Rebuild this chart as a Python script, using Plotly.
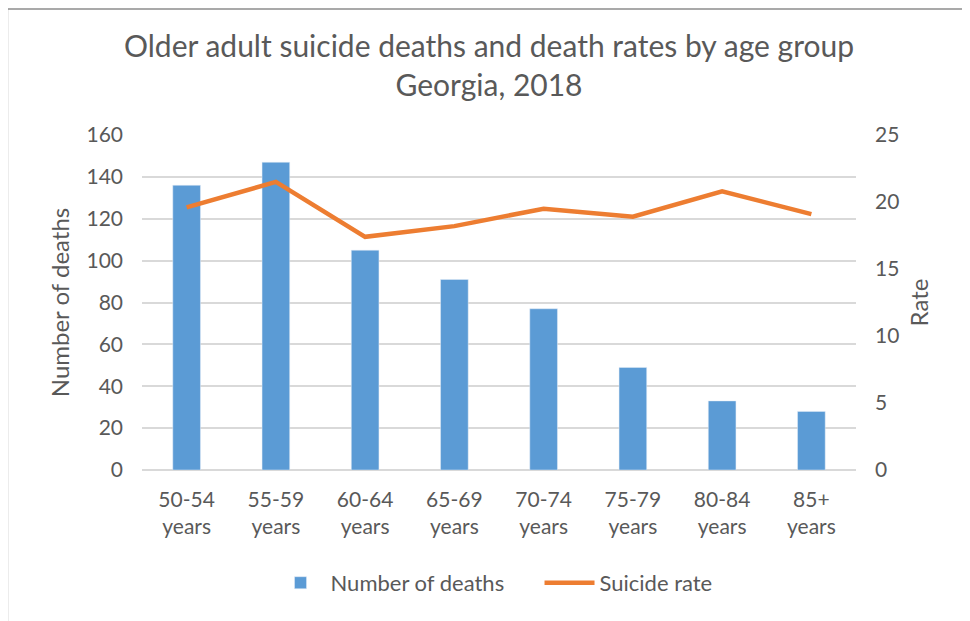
import plotly.graph_objects as go

age_groups = ["50-54<br>years", "55-59<br>years", "60-64<br>years", "65-69<br>years",
              "70-74<br>years", "75-79<br>years", "80-84<br>years", "85+<br>years"]
deaths = [136, 147, 105, 91, 77, 49, 33, 28]
suicide_rate = [19.6, 21.5, 17.4, 18.2, 19.5, 18.9, 20.8, 19.1]

FONT = "Lato"
GREY = "#595959"

fig = go.Figure()

fig.add_trace(go.Bar(
    x=age_groups, y=deaths, name="Number of deaths",
    marker=dict(color="#5b9bd5"), width=0.31,
))

fig.add_trace(go.Scatter(
    x=age_groups, y=suicide_rate, name="Suicide rate", yaxis="y2",
    mode="lines", line=dict(color="#ed7d31", width=4.5),
))

# frame around the chart (Excel chart border); page body adds an 8px offset
border = dict(color="#8c8c8c", width=1.5)
fig.add_shape(type="line", xref="paper", yref="paper", x0=-0.1885, x1=1.155, y0=1.376, y1=1.376, line=border)
fig.add_shape(type="line", xref="paper", yref="paper", x0=-0.1885, x1=-0.1885, y0=-0.5, y1=1.376, line=border)
fig.add_shape(type="line", xref="paper", yref="paper", x0=1.155, x1=1.155, y0=-0.5, y1=1.376, line=border)

fig.update_layout(
    width=962, height=613,
    margin=dict(l=134, r=114, t=127, b=151),
    paper_bgcolor="white", plot_bgcolor="white",
    font=dict(family=FONT, color=GREY, size=21),
    title=dict(text="Older adult suicide deaths and death rates by age group<br>Georgia, 2018",
               x=0.5, xanchor="center", y=0.92, yanchor="middle",
               font=dict(family=FONT, size=30, color=GREY)),
    xaxis=dict(showgrid=False, showline=False, ticks="", tickfont=dict(size=21),
               ticklabelstandoff=15),
    yaxis=dict(range=[0, 160], dtick=20, showgrid=True, gridcolor="#d9d9d9", gridwidth=1.5,
               zeroline=True, zerolinecolor="#d9d9d9", zerolinewidth=1.5,
               title=dict(text="Number of deaths", font=dict(size=24), standoff=10),
               tickfont=dict(size=21), ticklabelstandoff=18),
    yaxis2=dict(range=[0, 25], dtick=5, overlaying="y", side="right", showgrid=False,
                zeroline=False, title=dict(text="Rate", font=dict(size=24), standoff=12),
                tickfont=dict(size=21), ticklabelstandoff=18),
    legend=dict(orientation="h", x=0.18, xanchor="left", y=-0.337, yanchor="middle",
                font=dict(size=22), traceorder="normal", itemwidth=50, entrywidth=204),
    bargap=0.69,
)

fig.write_html("out.html")
